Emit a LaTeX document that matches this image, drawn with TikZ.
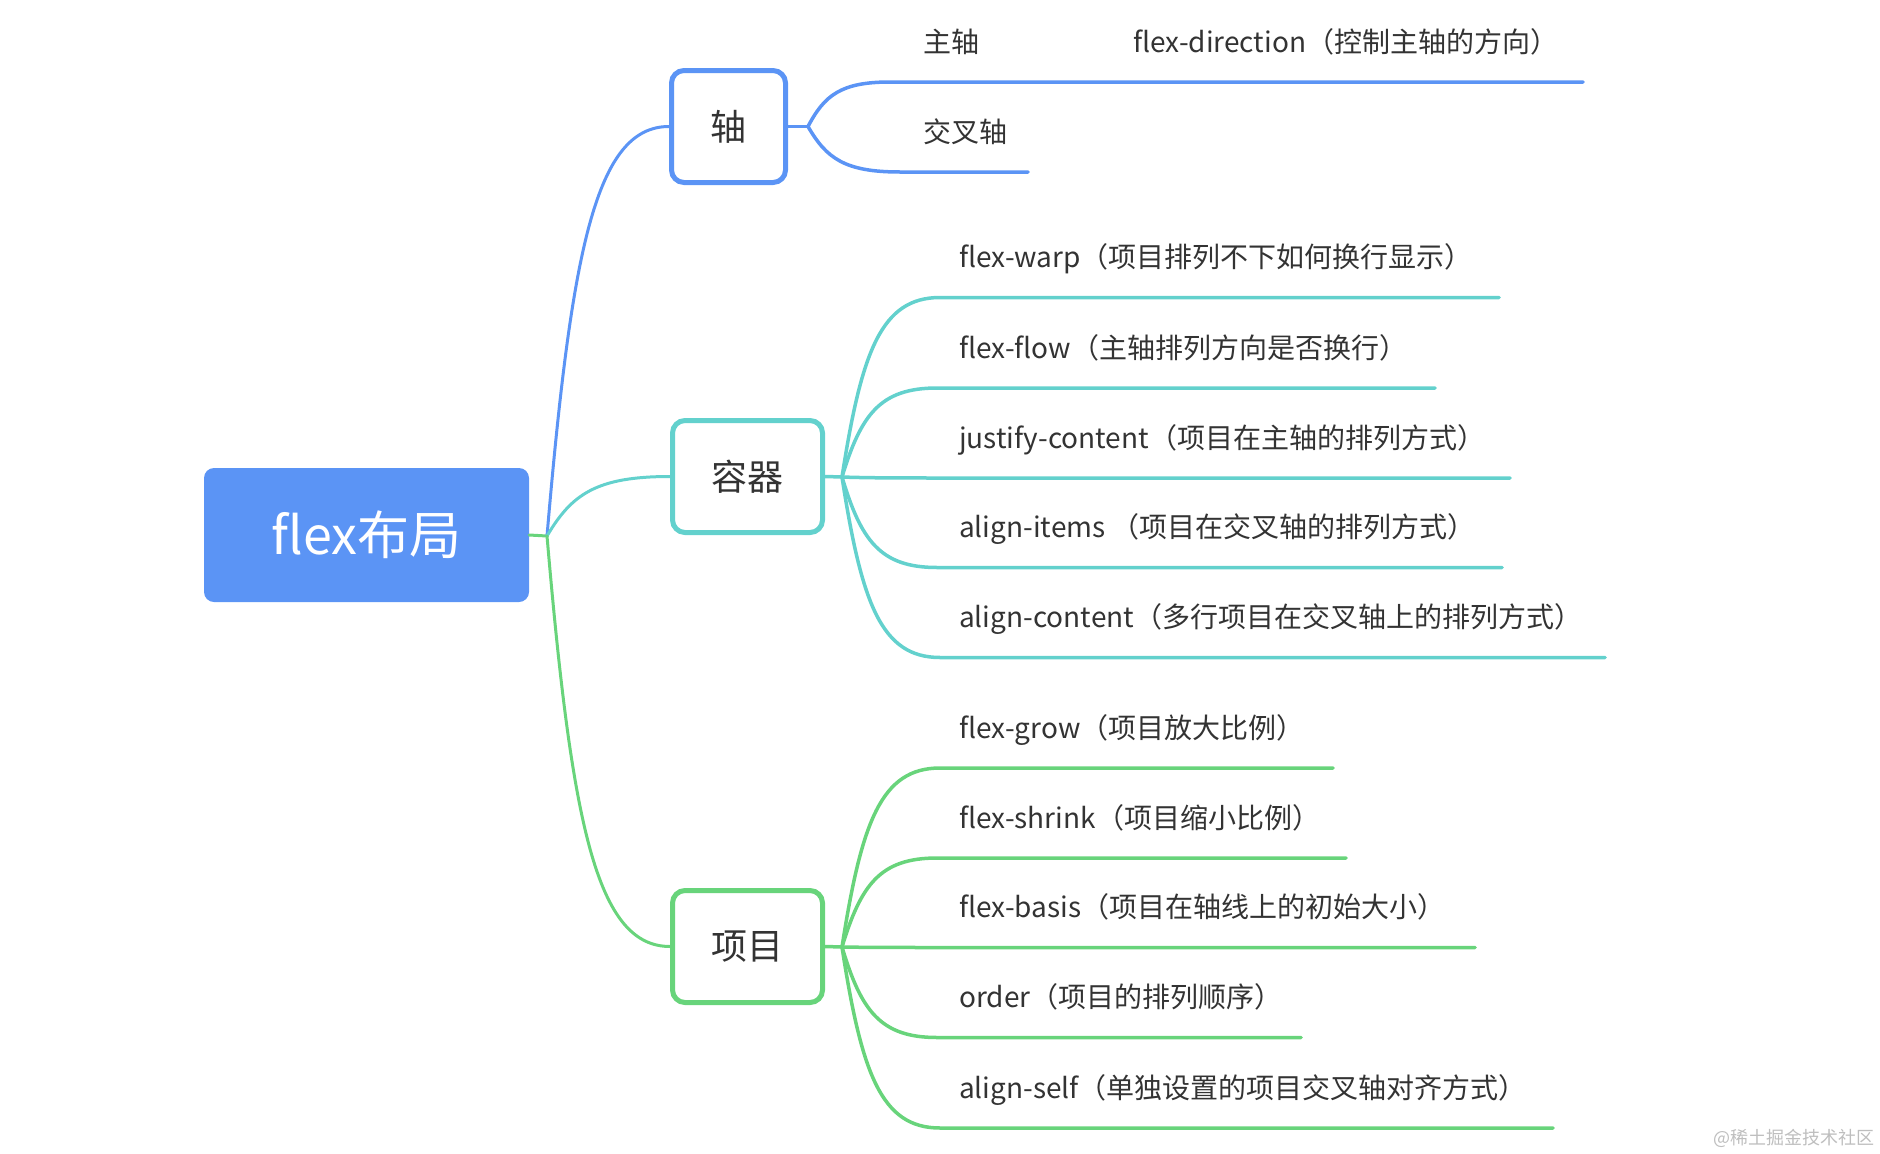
\documentclass[tikz,border=0pt]{standalone}
\usepackage{fontspec}
\setmainfont{Noto Sans CJK SC}
\usetikzlibrary{calc}
\definecolor{mblue}{RGB}{91,148,245}
\definecolor{mcyan}{RGB}{99,209,205}
\definecolor{mgreen}{RGB}{104,212,123}
\definecolor{mtext}{RGB}{51,51,51}
\definecolor{mwater}{RGB}{190,190,190}
% curve from #2 to #3 (mind-map style), then straight to #4
\newcommand\mmleaf[4]{\draw[#1] let \p1=(#2), \p2=(#3) in (\p1) .. controls ({\x1+0.2*(\x2-\x1)},{\y1+0.7*(\y2-\y1)}) and ({\x1+0.4*(\x2-\x1)},{\y2}) .. (\p2) -- (#4);}
\newcommand\mmcurve[3]{\draw[#1] let \p1=(#2), \p2=(#3) in (\p1) .. controls ({\x1+0.2*(\x2-\x1)},{\y1+0.7*(\y2-\y1)}) and ({\x1+0.4*(\x2-\x1)},{\y2}) .. (\p2);}
\begin{document}
\begin{tikzpicture}[x=1pt,y=-1pt,
  rootbox/.style={fill=mblue, rounded corners=10pt, minimum width=325pt, minimum height=134pt, inner sep=0pt, text=white, font=\fontsize{52}{60}\selectfont},
  topicbox/.style={draw=#1, line width=5pt, rounded corners=12.5pt, fill=white, minimum height=112pt, inner sep=0pt, text=mtext, font=\fontsize{36}{42}\selectfont},
  leaftext/.style={anchor=base west, inner sep=0pt, text=mtext, font=\fontsize{28}{34}\selectfont},
  mmline/.style={draw=#1, line width=3.5pt, line cap=round},
  rootline/.style={draw=#1, line width=3pt, line cap=round},
  water/.style={anchor=east, inner sep=0pt, text=mwater, font=\fontsize{18}{22}\selectfont}]
\useasboundingbox (0,0) rectangle (1880,1154);

% junction points
\coordinate (j0) at (547,536);
\coordinate (j1) at (808,126.5);
\coordinate (j2) at (842,477);
\coordinate (j3) at (842,947);

% leaf line start / end points
\coordinate (a1s) at (890,82);    \coordinate (a1e) at (1583,82);
\coordinate (a2s) at (900,172);   \coordinate (a2e) at (1028,172);

\coordinate (b1s) at (940,297.5); \coordinate (b1e) at (1499,297.5);
\coordinate (b2s) at (937,388);   \coordinate (b2e) at (1435,388);
\coordinate (b3s) at (940,478);   \coordinate (b3e) at (1510,478);
\coordinate (b4s) at (937,567.5); \coordinate (b4e) at (1502,567.5);
\coordinate (b5s) at (940,657.5); \coordinate (b5e) at (1605,657.5);

\coordinate (c1s) at (940,768);   \coordinate (c1e) at (1333,768);
\coordinate (c2s) at (937,858);   \coordinate (c2e) at (1346,858);
\coordinate (c3s) at (940,947.5); \coordinate (c3e) at (1475,947.5);
\coordinate (c4s) at (937,1037.5);\coordinate (c4e) at (1301,1037.5);
\coordinate (c5s) at (940,1128);  \coordinate (c5e) at (1553,1128);

% main nodes
\node[rootbox] (root) at (366.5,535) {flex布局};
\node[topicbox=mblue, minimum width=114pt] (axis) at (728.5,126.5) {轴};
\node[topicbox=mcyan, minimum width=150pt] (cont) at (747.5,476.5) {容器};
\node[topicbox=mgreen, minimum width=150pt] (item) at (747.5,946.5) {项目};

% root connectors
\draw[rootline=mgreen] (root.east) -- (j0);
\mmcurve{rootline=mblue}{j0}{axis.west}
\mmcurve{rootline=mcyan}{j0}{cont.west}
\mmcurve{rootline=mgreen}{j0}{item.west}

% axis branch
\draw[mmline=mblue] (axis.east) -- (j1);
\mmleaf{mmline=mblue}{j1}{a1s}{a1e}
\mmleaf{mmline=mblue}{j1}{a2s}{a2e}
\node[leaftext] (t01) at (923,52) {主轴};
\node[leaftext] (t02) at (1133,52) {flex-direction（控制主轴的方向）};
\node[leaftext] (t03) at (923,142) {交叉轴};

% container branch
\draw[mmline=mcyan] (cont.east) -- (j2);
\mmleaf{mmline=mcyan}{j2}{b1s}{b1e}
\mmleaf{mmline=mcyan}{j2}{b2s}{b2e}
\mmleaf{mmline=mcyan}{j2}{b3s}{b3e}
\mmleaf{mmline=mcyan}{j2}{b4s}{b4e}
\mmleaf{mmline=mcyan}{j2}{b5s}{b5e}
\node[leaftext] (t11) at (959,267.5) {flex-warp（项目排列不下如何换行显示）};
\node[leaftext] (t12) at (959,358) {flex-flow（主轴排列方向是否换行）};
\node[leaftext] (t13) at (959,448) {justify-content（项目在主轴的排列方式）};
\node[leaftext] (t14) at (959,537.5) {align-items （项目在交叉轴的排列方式）};
\node[leaftext] (t15) at (959,627.5) {align-content（多行项目在交叉轴上的排列方式）};

% item branch
\draw[mmline=mgreen] (item.east) -- (j3);
\mmleaf{mmline=mgreen}{j3}{c1s}{c1e}
\mmleaf{mmline=mgreen}{j3}{c2s}{c2e}
\mmleaf{mmline=mgreen}{j3}{c3s}{c3e}
\mmleaf{mmline=mgreen}{j3}{c4s}{c4e}
\mmleaf{mmline=mgreen}{j3}{c5s}{c5e}
\node[leaftext] (t21) at (959,738) {flex-grow（项目放大比例）};
\node[leaftext] (t22) at (959,828) {flex-shrink（项目缩小比例）};
\node[leaftext] (t23) at (959,917.5) {flex-basis（项目在轴线上的初始大小）};
\node[leaftext] (t24) at (959,1007.5) {order（项目的排列顺序）};
\node[leaftext] (t25) at (959,1098) {align-self（单独设置的项目交叉轴对齐方式）};

% watermark
\node[water] (wm) at (1875,1138) {@稀土掘金技术社区};
\end{tikzpicture}
\end{document}
